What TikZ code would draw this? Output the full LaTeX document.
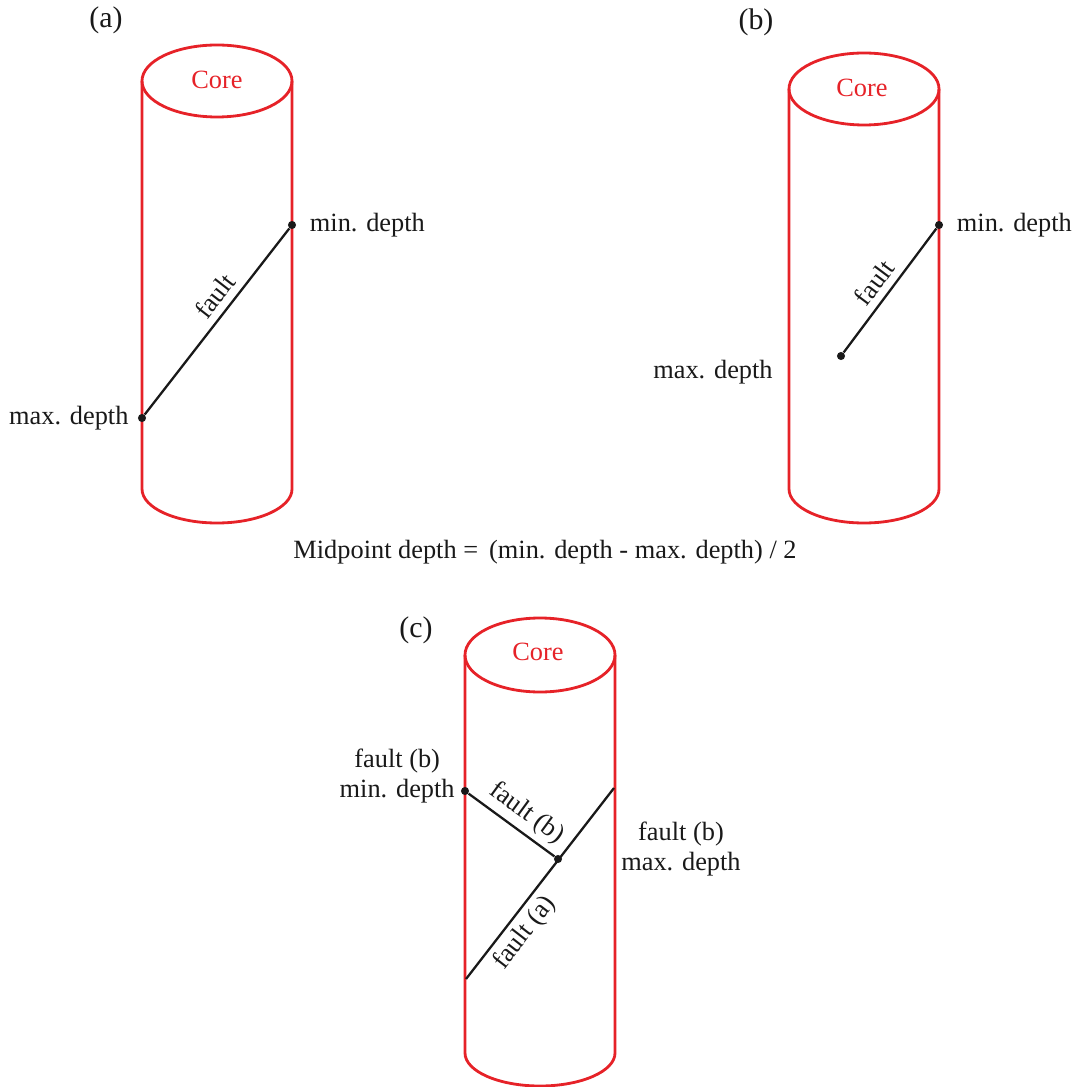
\documentclass[tikz,border=0pt]{standalone}
\usepackage{fontspec}
\setmainfont{Liberation Serif}
\usepackage{tikz}
\usetikzlibrary{positioning}
\definecolor{coreRed}{RGB}{230,34,40}

\begin{document}
\begin{tikzpicture}[x=0.02cm,y=-0.02cm,
        font=\fontsize{15}{17}\selectfont,
        core/.style={draw=coreRed, line width=1.6pt},
        corelabel/.style={text=coreRed},
        fault/.style={draw=black!90, line width=1.3pt},
        dot/.style={circle, fill=black!90, inner sep=0pt, minimum size=4.6pt},
        lbl/.style={inner sep=0pt, text=black!90},
        tag/.style={inner sep=0pt, text=black!90, font=\fontsize{17}{19}\selectfont}]
    \useasboundingbox (0,0) rectangle (1078,1087);

      % (a) fault crossing the whole core
      \draw[core] (217,81) ellipse [x radius=75, y radius=36];
      \draw[core] (142,81) -- (142,489) arc[start angle=180, end angle=0, x radius=75, y radius=34] -- (292,81);
      \node[corelabel] (coreA) at (217,80) {Core};
      \node[tag] (tagA) at (106,20) {(a)};

      \node[dot] (aMin) at (292,225) {};
      \node[dot] (aMax) at (142,418) {};
      \draw[fault] (aMax) -- node[pos=0.58, sloped, above, lbl, yshift=4pt] {fault} (aMin);
      \node[lbl, right=7.5pt of aMin] (aMinTxt) {min. depth};
      \node[lbl, left=5pt of aMax] (aMaxTxt) {max. depth};

      % (b) fault ending inside the core
      \draw[core] (864,89) ellipse [x radius=75, y radius=36];
      \draw[core] (789,89) -- (789,489) arc[start angle=180, end angle=0, x radius=75, y radius=34] -- (939,89);
      \node[corelabel] (coreB) at (862,88) {Core};
      \node[tag] (tagB) at (756,22) {(b)};

      \node[dot] (bMin) at (939,225) {};
      \node[dot] (bMax) at (841,356) {};
      \draw[fault] (bMax) -- node[pos=0.48, sloped, above, lbl, yshift=4pt] {fault} (bMin);
      \node[lbl, right=7.5pt of bMin] (bMinTxt) {min. depth};
      \node[lbl, anchor=east] (bMaxTxt) at (773,372) {max. depth};

      \node[lbl] (formula) at (545,552) {Midpoint depth = \,(min. depth - max. depth) / 2};

      % (c) fault (b) cut off by fault (a)
      \draw[core] (540,655) ellipse [x radius=75, y radius=37];
      \draw[core] (465,655) -- (465,1053) arc[start angle=180, end angle=0, x radius=75, y radius=33] -- (615,655);
      \node[corelabel] (coreC) at (538,652) {Core};
      \node[tag] (tagC) at (416,630) {(c)};

      \coordinate (cLow) at (466,979);
      \coordinate (cHigh) at (614,788);
      \node[dot] (cMid) at (558,859) {};
      \node[dot] (cMin) at (465,791) {};
      \draw[fault] (cLow) -- node[pos=0.3, sloped, below, lbl, yshift=-3pt] {fault (a)} (cHigh);
      \draw[fault] (cMin) -- node[pos=0.55, sloped, above, lbl, yshift=3pt] {fault (b)} (cMid);
      \node[lbl, anchor=east, align=center] (cMinTxt) at (455,776) {fault (b)\\min. depth};
      \node[lbl, align=center] (cMaxTxt) at (681,849) {fault (b)\\max. depth};
    \end{tikzpicture}
\end{document}
